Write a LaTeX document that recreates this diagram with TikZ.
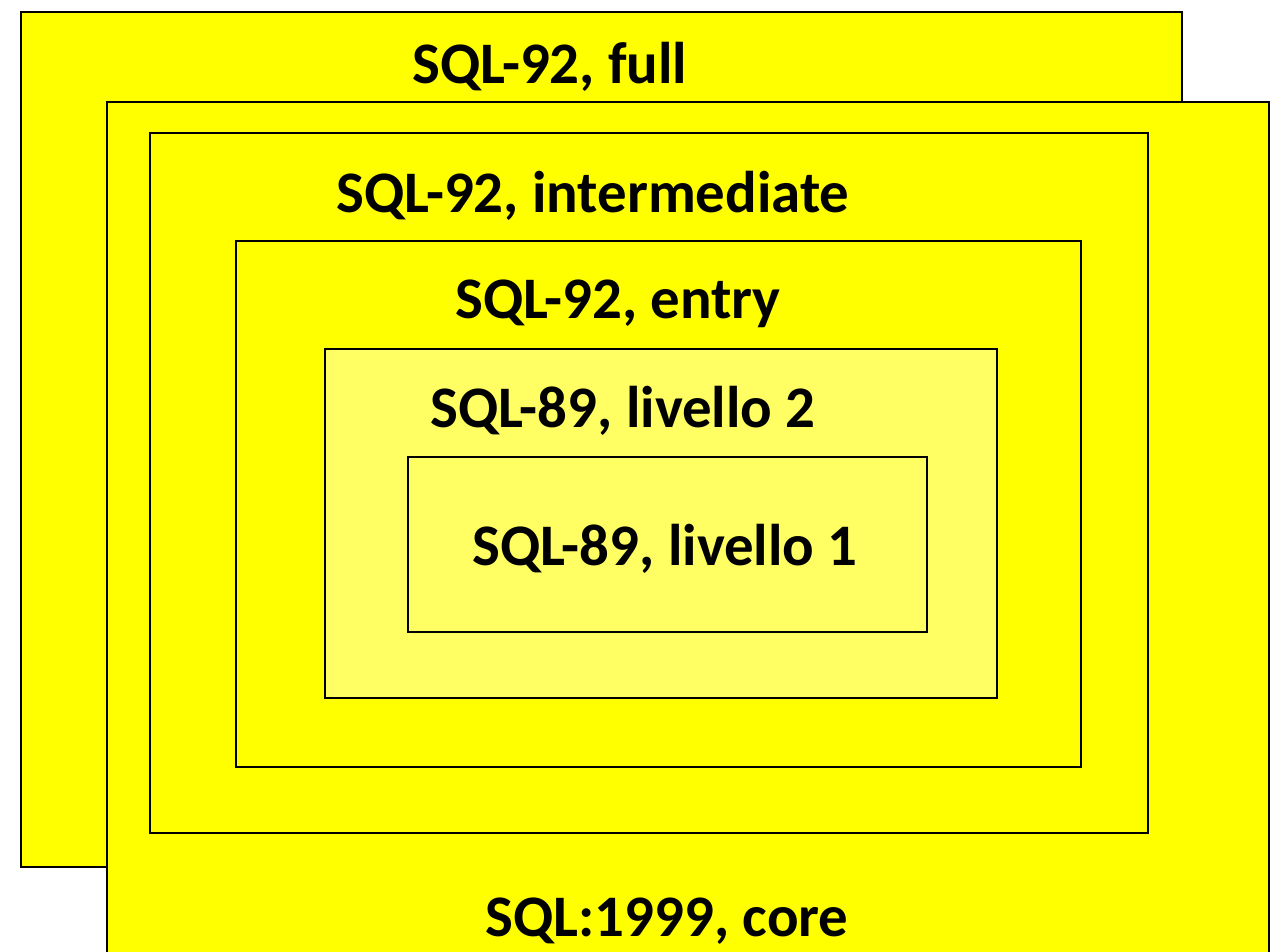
\documentclass[tikz,border=0pt]{standalone}
\usepackage{fontspec}
\setmainfont{Carlito}
\usepackage{tikz}
\usetikzlibrary{positioning}
\definecolor{cYellow}{RGB}{255,255,0}
\definecolor{cLight}{RGB}{255,255,100}
\tikzset{
  levelbox/.style={draw=black, line width=1.6pt, fill=cYellow},
  lightbox/.style={levelbox, fill=cLight},
  lbl/.style={anchor=base, inner sep=0pt, font=\fontsize{33.5}{40}\selectfont\bfseries}
}
\begin{document}
\begin{tikzpicture}[x=0.02cm, y=-0.02cm]
  \useasboundingbox (0,0) rectangle (1285,951);
  \begin{scope}
  \clip (0,0) rectangle (1285,951);
  % nested levels, outermost first
  \draw[levelbox] (21,12) rectangle (1182,867);
  \draw[levelbox] (107,102) rectangle (1269,980);
  \draw[levelbox] (150,133) rectangle (1148,833);
  \draw[levelbox] (236,241) rectangle (1081,767);
  \draw[lightbox] (325,349) rectangle (997,698);
  \draw[lightbox] (408,457) rectangle (927,632);
  \end{scope}

  \node[lbl] (full) at (550,83) {SQL-92, full};
  \node[lbl] (inter) at (593,212) {SQL-92, intermediate};
  \node[lbl] (entry) at (618,318) {SQL-92, entry};
  \node[lbl] (liv2) at (623,427) {SQL-89, livello 2};
  \node[lbl] (liv1) at (665,565) {SQL-89, livello 1};
  \node[lbl] (core) at (667,936) {SQL:1999, core};
\end{tikzpicture}
\end{document}
